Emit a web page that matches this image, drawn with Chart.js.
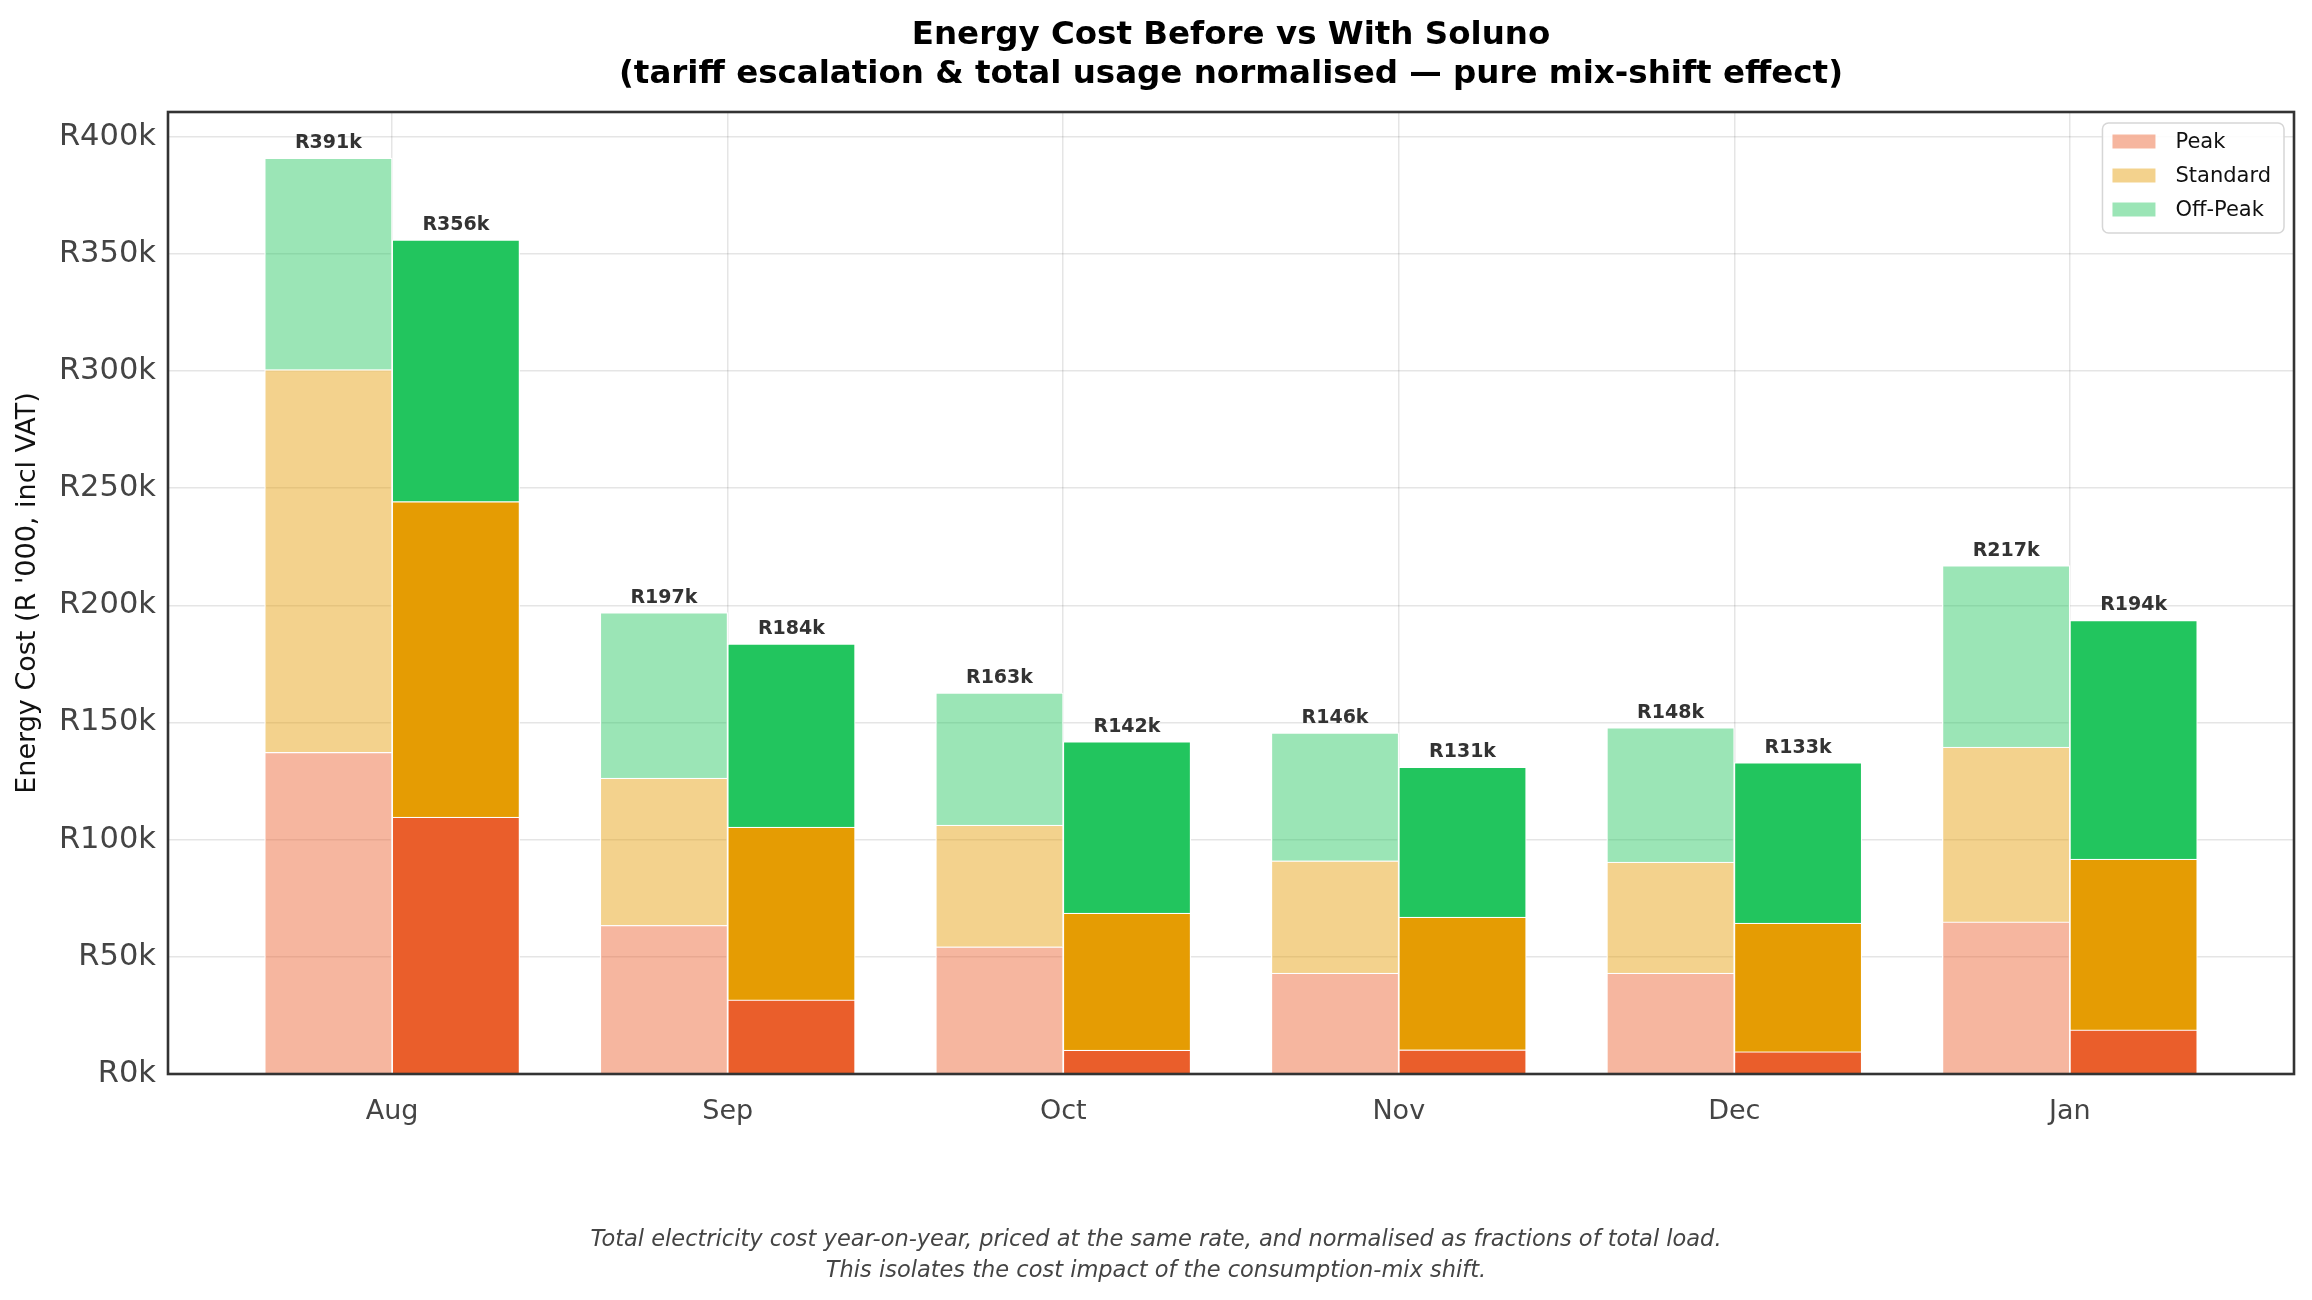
<!DOCTYPE html>
<html>
<head>
<meta charset="utf-8">
<script src="https://cdn.jsdelivr.net/npm/chart.js@4.4.1/dist/chart.umd.min.js"></script>
<style>
  body { margin: 0; background: #fff; }
  #wrap { width: 2312px; height: 1300px; }
</style>
</head>
<body>
<div id="wrap"><canvas id="costChart" width="2312" height="1300"></canvas></div>
<script>
const months = ["Aug", "Sep", "Oct", "Nov", "Dec", "Jan"];
// energy cost per tariff band, R '000
const beforePeak = [137.3, 63.4, 54.3, 43.1, 43.1, 64.9];
const beforeStandard = [163.3, 62.9, 51.9, 47.9, 47.3, 74.6];
const beforeOffPeak = [90.3, 70.6, 56.4, 54.6, 57.4, 77.5];
const afterPeak = [109.6, 31.6, 10.2, 10.3, 9.5, 18.8];
const afterStandard = [134.7, 73.8, 58.5, 56.7, 54.9, 72.9];
const afterOffPeak = [111.7, 78.2, 73.1, 64.0, 68.5, 101.9];
const yTicks = [0, 50, 100, 150, 200, 250, 300, 350, 400];
const bandNames = ["Peak", "Standard", "Off-Peak"];

const bandColors = ["#EA5E2B", "#E59C03", "#22C55E"];
const FONT = "'DejaVu Sans', 'Liberation Sans', sans-serif";

function fade(hex, a) {
  const r = parseInt(hex.slice(1, 3), 16);
  const g = parseInt(hex.slice(3, 5), 16);
  const b = parseInt(hex.slice(5, 7), 16);
  return `rgba(${r},${g},${b},${a})`;
}

function makeSet(label, values, offset, color) {
  return {
    label: label,
    data: values.map((v, i) => ({ x: i + offset, y: v })),
    backgroundColor: color,
    borderColor: "rgba(255,255,255,0.9)",
    borderWidth: 1.2,
    categoryPercentage: 1,
    barPercentage: 1
  };
}

const beforeSets = [beforePeak, beforeStandard, beforeOffPeak];
const afterSets = [afterPeak, afterStandard, afterOffPeak];

const datasets = [];
beforeSets.forEach((vals, k) => datasets.push(makeSet(bandNames[k], vals, -0.19, fade(bandColors[k], 0.45))));
afterSets.forEach((vals, k) => datasets.push(makeSet(bandNames[k] + " (Soluno)", vals, 0.19, bandColors[k])));

// totals above each bar
const totalLabels = {
  id: "totalLabels",
  afterDatasetsDraw(chart) {
    const ctx = chart.ctx;
    ctx.save();
    ctx.font = "bold 19px " + FONT;
    ctx.fillStyle = "#333";
    ctx.textAlign = "center";
    ctx.textBaseline = "alphabetic";
    [[2, beforeSets], [5, afterSets]].forEach(([topIdx, sets]) => {
      const meta = chart.getDatasetMeta(topIdx);
      meta.data.forEach((bar, i) => {
        const total = sets.reduce((s, arr) => s + arr[i], 0);
        ctx.fillText("R" + Math.round(total) + "k", bar.x, bar.y - 10);
      });
    });
    ctx.restore();
  }
};

// frame + legend in top-right corner
const frameAndLegend = {
  id: "frameAndLegend",
  afterDraw(chart) {
    const { ctx, chartArea } = chart;
    ctx.save();
    ctx.strokeStyle = "#333";
    ctx.lineWidth = 2.6;
    ctx.strokeRect(chartArea.left, chartArea.top, chartArea.right - chartArea.left, chartArea.bottom - chartArea.top);

    ctx.font = "21px " + FONT;
    const textW = Math.max(...bandNames.map(n => ctx.measureText(n).width));
    const w = 11 + 42 + 20 + textW + 13;
    const h = 110;
    const x0 = chartArea.right - 10 - w;
    const y0 = chartArea.top + 11;
    ctx.beginPath();
    ctx.roundRect(x0, y0, w, h, 6);
    ctx.fillStyle = "rgba(255,255,255,0.85)";
    ctx.fill();
    ctx.strokeStyle = "#d6d6d6";
    ctx.lineWidth = 1.5;
    ctx.stroke();
    ctx.textBaseline = "middle";
    ctx.textAlign = "left";
    bandNames.forEach((name, k) => {
      const cy = y0 + 18.5 + k * 34;
      ctx.fillStyle = fade(bandColors[k], 0.45);
      ctx.fillRect(x0 + 10, cy - 7, 43, 14);
      ctx.fillStyle = "#111";
      ctx.fillText(name, x0 + 73, cy + 1);
    });
    ctx.restore();
  }
};

new Chart(document.getElementById("costChart"), {
  type: "bar",
  data: { datasets: datasets },
  options: {
    responsive: false,
    animation: false,
    layout: { padding: { left: 18, right: 18, top: 0, bottom: 0 } },
    plugins: {
      legend: { display: false },
      tooltip: { enabled: false },
      title: {
        display: true,
        fullSize: false,
        text: ["Energy Cost Before vs With Soluno", "(tariff escalation & total usage normalised \u2014 pure mix-shift effect)"],
        color: "#000",
        font: { family: FONT, size: 32.5, weight: "bold", lineHeight: 1.2 },
        padding: { top: 16.5, bottom: 17.5 }
      },
      subtitle: {
        display: true,
        position: "bottom",
        text: ["Total electricity cost year-on-year, priced at the same rate, and normalised as fractions of total load.",
               "This isolates the cost impact of the consumption-mix shift."],
        color: "#444",
        font: { family: FONT, size: 22.5, style: "italic", lineHeight: 1.4 },
        padding: { top: 0, bottom: 13 }
      }
    },
    scales: {
      x: {
        type: "linear",
        stacked: true,
        offset: false,
        min: -0.668,
        max: 5.668,
        afterBuildTicks: (scale) => { scale.ticks = months.map((m, i) => ({ value: i })); },
        afterFit: (scale) => { scale.height = 150; },
        ticks: {
          autoSkip: false,
          maxRotation: 0,
          padding: 22,
          color: "#444",
          font: { family: FONT, size: 27 },
          callback: (v) => months[v]
        },
        grid: { offset: false, color: "rgba(0,0,0,0.1)", lineWidth: 1.5, drawTicks: false },
        border: { display: false }
      },
      y: {
        stacked: true,
        min: 0,
        max: 410.55,
        afterBuildTicks: (scale) => { scale.ticks = yTicks.map(v => ({ value: v })); },
        afterFit: (scale) => { scale.width = 150; },
        ticks: {
          padding: 12,
          color: "#444",
          font: { family: FONT, size: 30.5 },
          callback: (v) => "R" + v + "k"
        },
        grid: { color: "rgba(0,0,0,0.1)", lineWidth: 1.5, drawTicks: false },
        border: { display: false },
        title: {
          display: true,
          text: "Energy Cost (R '000, incl VAT)",
          color: "#111",
          font: { family: FONT, size: 27 },
          padding: { top: -6, bottom: 0 }
        }
      }
    }
  },
  plugins: [totalLabels, frameAndLegend]
});
</script>
</body>
</html>
